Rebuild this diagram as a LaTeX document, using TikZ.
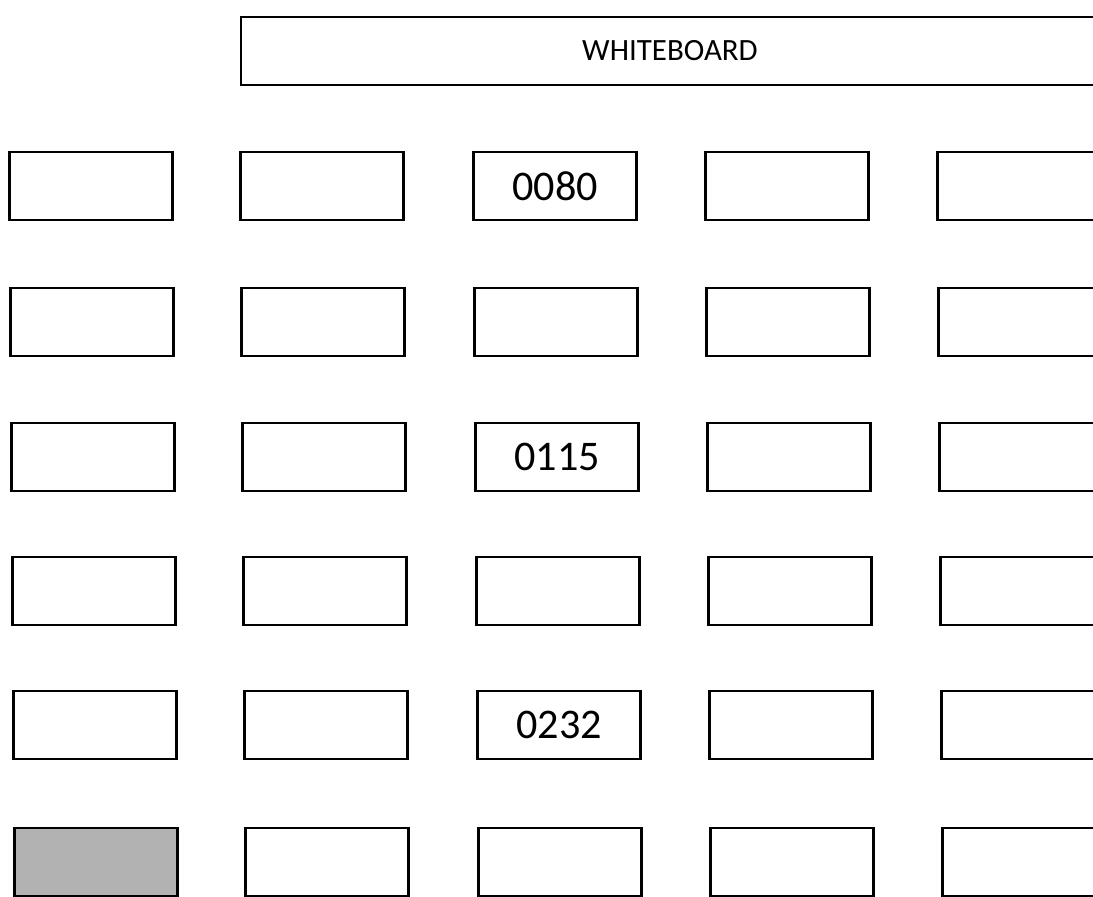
\documentclass[tikz,border=0pt]{standalone}
\usepackage{fontspec}
\setmainfont{Carlito}
\usepackage{tikz}

\begin{document}
\begin{tikzpicture}[
    x=0.01cm, y=-0.01cm,
    desk/.style={draw, line width=0.7pt, minimum width=1.63cm, minimum height=0.68cm, inner sep=0pt},
    emptyDesk/.style={desk, fill=black!30},
    deskLabel/.style={font=\fontsize{12}{14}\selectfont},
    boardLabel/.style={font=\fontsize{8.8}{10}\selectfont}
]
    \useasboundingbox (0,0) rectangle (1093,897);
    \clip (0,0) rectangle (1093,897);

    % Whiteboard
    \draw[line width=0.7pt] (241,17) rectangle (1130,85);
    \node[boardLabel] (board) at (670,51) {WHITEBOARD};

    % Desks (rows drift slightly to the right)
    \foreach \r/\py in {1/186,2/322,3/457,4/591,5/725,6/862}
        \foreach \c/\px in {1/91,2/322,3/555,4/787,5/1019}
            \node[desk] (d-\r-\c) at (\px+\r-1,\py) {};

    % Grey desk
    \node[emptyDesk] (gap) at (d-6-1) {};

    % Numbered desks
    \node[deskLabel] (n0080) at (d-1-3) {0080};
    \node[deskLabel] (n0115) at (d-3-3) {0115};
    \node[deskLabel] (n0232) at (d-5-3) {0232};
\end{tikzpicture}
\end{document}
